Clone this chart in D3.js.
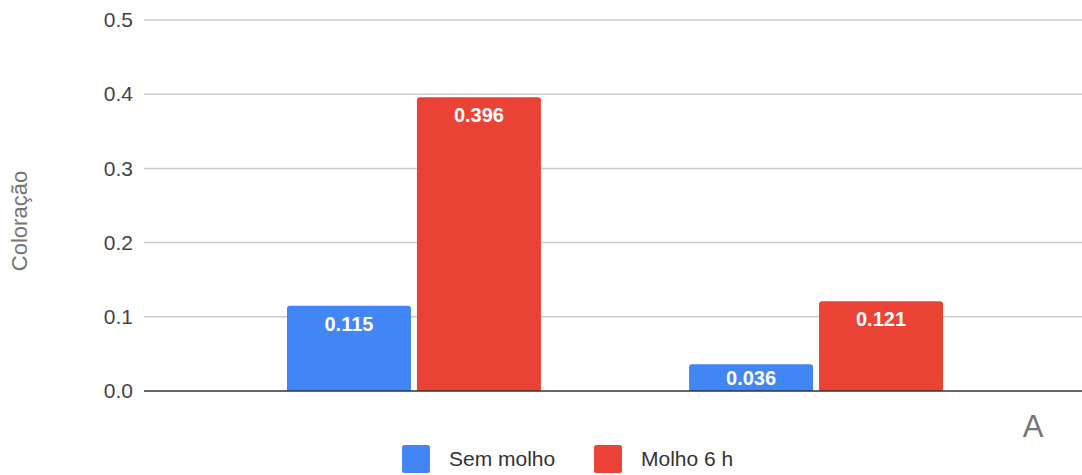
<!DOCTYPE html>
<html>
<head>
<meta charset="utf-8">
<script src="https://cdn.jsdelivr.net/npm/d3@7/dist/d3.min.js"></script>
<style>
  html, body { margin: 0; padding: 0; background: #fff; }
  svg { display: block; font-family: Arial, "Liberation Sans", sans-serif; }
</style>
</head>
<body>
<svg id="chart" width="1082" height="475"></svg>
<script>
// Data
const categories = ["1", "2"];
const seriesNames = ["Sem molho", "Molho 6 h"];
const semMolho = [0.115, 0.036];
const molho6h = [0.396, 0.121];
const yTicks = [0, 0.1, 0.2, 0.3, 0.4, 0.5];
const yTitle = "Coloração";
const cornerLabel = "A";

const colors = ["#4285f4", "#ea4335"];
const seriesValues = [semMolho, molho6h];

const W = 1082, H = 475;
const plot = { left: 144, right: 1086, top: 20, bottom: 391 };

const svg = d3.select("#chart");

const y = d3.scaleLinear().domain([0, 0.5]).range([plot.bottom, plot.top]);
const x0 = d3.scaleBand().domain(categories)
  .range([plot.left, plot.right]).paddingInner(0.3685).paddingOuter(0.3556);
const x1 = d3.scaleBand().domain(seriesNames)
  .range([0, x0.bandwidth()]).paddingInner(0.046).paddingOuter(0);

// Gridlines
svg.append("g")
  .selectAll("line")
  .data(yTicks.filter(d => d !== 0))
  .join("line")
  .attr("x1", plot.left).attr("x2", W)
  .attr("y1", d => y(d)).attr("y2", d => y(d))
  .attr("stroke", "#cccccc").attr("stroke-width", 1.5);

// Y axis tick labels
const yAxis = d3.axisLeft(y).tickValues(yTicks).tickFormat(d3.format(".1f")).tickSize(0).tickPadding(11);
const gy = svg.append("g").attr("transform", `translate(${plot.left},0)`).call(yAxis);
gy.select(".domain").remove();
gy.selectAll("text")
  .attr("fill", "#444444")
  .style("font-size", "21px")
  .style("font-family", "Arial, 'Liberation Sans', sans-serif");

// Y axis title
svg.append("text")
  .attr("transform", `translate(27,221) rotate(-90)`)
  .attr("text-anchor", "middle")
  .attr("fill", "#757575")
  .style("font-size", "22px")
  .text(yTitle);

// Rows of bars
const rows = [];
categories.forEach((c, i) => {
  seriesNames.forEach((s, j) => {
    rows.push({ cat: c, series: s, value: seriesValues[j][i], color: colors[j] });
  });
});

function topRoundedRect(x, yTop, w, h, r) {
  r = Math.min(r, h / 2, w / 2);
  return `M${x},${yTop + h}V${yTop + r}Q${x},${yTop} ${x + r},${yTop}` +
         `H${x + w - r}Q${x + w},${yTop} ${x + w},${yTop + r}V${yTop + h}Z`;
}

const bars = svg.append("g");
bars.selectAll("path")
  .data(rows)
  .join("path")
  .attr("d", d => {
    const bx = x0(d.cat) + x1(d.series);
    const top = y(d.value);
    return topRoundedRect(bx, top, x1.bandwidth(), y(0) - top, 3);
  })
  .attr("fill", d => d.color);

// Baseline
svg.append("line")
  .attr("x1", plot.left).attr("x2", W)
  .attr("y1", y(0)).attr("y2", y(0))
  .attr("stroke", "#333333").attr("stroke-width", 1.5);

// Value labels inside bars
svg.append("g")
  .selectAll("text")
  .data(rows)
  .join("text")
  .attr("x", d => x0(d.cat) + x1(d.series) + x1.bandwidth() / 2)
  .attr("y", d => {
    const top = y(d.value), bottom = y(0);
    return Math.min(top + 25, (top + bottom) / 2 + 7.5);
  })
  .attr("text-anchor", "middle")
  .attr("fill", "#ffffff")
  .style("font-size", "20px")
  .style("font-weight", "bold")
  .text(d => d3.format(".3f")(d.value));

// Corner label
svg.append("text")
  .attr("x", 1033).attr("y", 437)
  .attr("text-anchor", "middle")
  .attr("fill", "#757575")
  .style("font-size", "31px")
  .text(cornerLabel);

// Legend
const legendX = [402, 594];
const legend = svg.append("g");
seriesNames.forEach((s, j) => {
  legend.append("rect")
    .attr("x", legendX[j]).attr("y", 445)
    .attr("width", 28).attr("height", 28)
    .attr("rx", 2.5)
    .attr("fill", colors[j]);
  legend.append("text")
    .attr("x", legendX[j] + 47).attr("y", 466)
    .attr("fill", "#333333")
    .style("font-size", "21px")
    .text(s);
});
</script>
</body>
</html>
